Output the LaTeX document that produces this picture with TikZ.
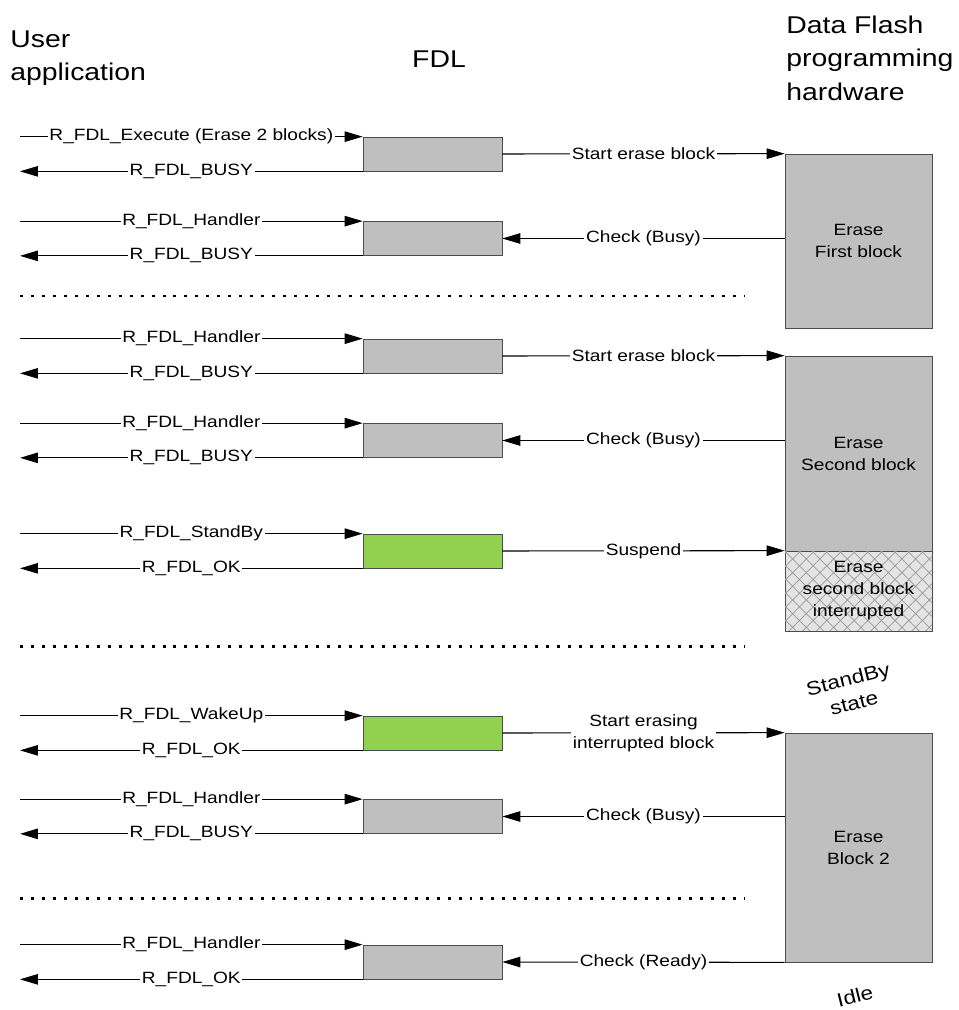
\documentclass[tikz,border=0pt]{standalone}
\usepackage{fontspec}
\setmainfont{Liberation Sans}[FakeStretch=1.17]
\usetikzlibrary{arrows.meta,patterns.meta}

\definecolor{blockgray}{HTML}{BFBFBF}
\definecolor{fdlgreen}{HTML}{92D050}
\definecolor{hatchgray}{HTML}{E4E4E4}
\newcommand\lblsize{\fontsize{9.3pt}{12.5pt}\selectfont}
\newcommand\headsize{\fontsize{13.8pt}{19pt}\selectfont}
\newcommand\statesize{\fontsize{11pt}{14pt}\selectfont}

\begin{document}
\begin{tikzpicture}[x=0.02cm,y=-0.02cm,
  every node/.style={font=\lblsize},
  fdl/.style={draw=black!70,fill=blockgray,minimum width=2.78cm,minimum height=0.68cm,inner sep=0pt},
  hw/.style={draw=black!70,fill=blockgray,minimum width=2.94cm,inner sep=0pt,align=center},
  call/.style={-{Triangle[length=0.36cm,width=0.21cm]},line width=0.6pt},
  tag/.style={midway,fill=white,inner sep=1pt,align=center},
  sep/.style={line width=1.7pt,dash pattern=on 1.7pt off 4.54pt}]

\useasboundingbox (0,0) rectangle (959,1010);

\node (UA) at (10,58) [anchor=west,align=left,inner sep=0pt,font=\headsize] {User\\application};
\node (FD) at (439,59) [font=\headsize] {FDL};
\node (DF) at (786,58) [anchor=west,align=left,inner sep=0pt,font=\headsize] {Data Flash\\programming\\hardware};

\coordinate (L) at (20,0);

\node (F1) at (432.5,154) [fdl] {};
\node (F2) at (432.5,238.5) [fdl] {};
\node (F3) at (432.5,356) [fdl] {};
\node (F4) at (432.5,440.5) [fdl] {};
\node (F5) at (432.5,551) [fdl,fill=fdlgreen] {};
\node (F6) at (432.5,733) [fdl,fill=fdlgreen] {};
\node (F7) at (432.5,816.5) [fdl] {};
\node (F8) at (432.5,962) [fdl] {};

\node (H1) at (858.5,241) [hw,minimum height=3.48cm] {Erase\\First block};
\node (H2) at (858.5,453.5) [hw,minimum height=3.9cm] {Erase\\Second block};
\node (H2i) at (858.5,591) [hw,minimum height=1.6cm,fill=hatchgray,
  postaction={pattern={Lines[angle=45,distance=5.5pt,line width=0.4pt]},pattern color=black!40},
  postaction={pattern={Lines[angle=-45,distance=5.5pt,line width=0.4pt]},pattern color=black!40}]
  {Erase\\second block\\interrupted};
\node (H3) at (858.5,847.5) [hw,minimum height=4.58cm] {Erase\\Block 2};

\node (SB) at (851,691) [rotate=14,align=center,font=\statesize] {StandBy\\state};
\node (ID) at (855,996) [rotate=14,font=\statesize] {Idle};

% user application <-> FDL
\draw [call] (F1.north west -| L) -- node [tag] {R\_FDL\_Execute (Erase 2 blocks)} (F1.north west);
\draw [call] (F1.south west) -- node [tag] {R\_FDL\_BUSY} (F1.south west -| L);
\draw [call] (F2.north west -| L) -- node [tag] {R\_FDL\_Handler} (F2.north west);
\draw [call] (F2.south west) -- node [tag] {R\_FDL\_BUSY} (F2.south west -| L);
\draw [call] (F3.north west -| L) -- node [tag] {R\_FDL\_Handler} (F3.north west);
\draw [call] (F3.south west) -- node [tag] {R\_FDL\_BUSY} (F3.south west -| L);
\draw [call] (F4.north west -| L) -- node [tag] {R\_FDL\_Handler} (F4.north west);
\draw [call] (F4.south west) -- node [tag] {R\_FDL\_BUSY} (F4.south west -| L);
\draw [call] (F5.north west -| L) -- node [tag] {R\_FDL\_StandBy} (F5.north west);
\draw [call] (F5.south west) -- node [tag] {R\_FDL\_OK} (F5.south west -| L);
\draw [call] (F6.north west -| L) -- node [tag] {R\_FDL\_WakeUp} (F6.north west);
\draw [call] (F6.south west) -- node [tag] {R\_FDL\_OK} (F6.south west -| L);
\draw [call] (F7.north west -| L) -- node [tag] {R\_FDL\_Handler} (F7.north west);
\draw [call] (F7.south west) -- node [tag] {R\_FDL\_BUSY} (F7.south west -| L);
\draw [call] (F8.north west -| L) -- node [tag] {R\_FDL\_Handler} (F8.north west);
\draw [call] (F8.south west) -- node [tag] {R\_FDL\_OK} (F8.south west -| L);

% FDL <-> hardware
\draw [call] (F1.east) -- node [tag] {Start erase block} (H1.north west);
\draw [call] (F2.east -| H1.west) -- node [tag] {Check (Busy)} (F2.east);
\draw [call] (F3.east) -- node [tag] {Start erase block} (H2.north west);
\draw [call] (F4.east -| H2.west) -- node [tag] {Check (Busy)} (F4.east);
\draw [call] (F5.east) -- node [tag] {Suspend} (H2i.north west);
\draw [call] (F6.east) -- node [tag] {Start erasing\\interrupted block} (H3.north west);
\draw [call] (F7.east -| H3.west) -- node [tag] {Check (Busy)} (F7.east);
\draw [call] (H3.south west) -- node [tag] {Check (Ready)} (F8.east);

\draw [sep] (20,296) -- (745,296);
\draw [sep] (20,646) -- (745,646);
\draw [sep] (20,898) -- (745,898);

\end{tikzpicture}
\end{document}
